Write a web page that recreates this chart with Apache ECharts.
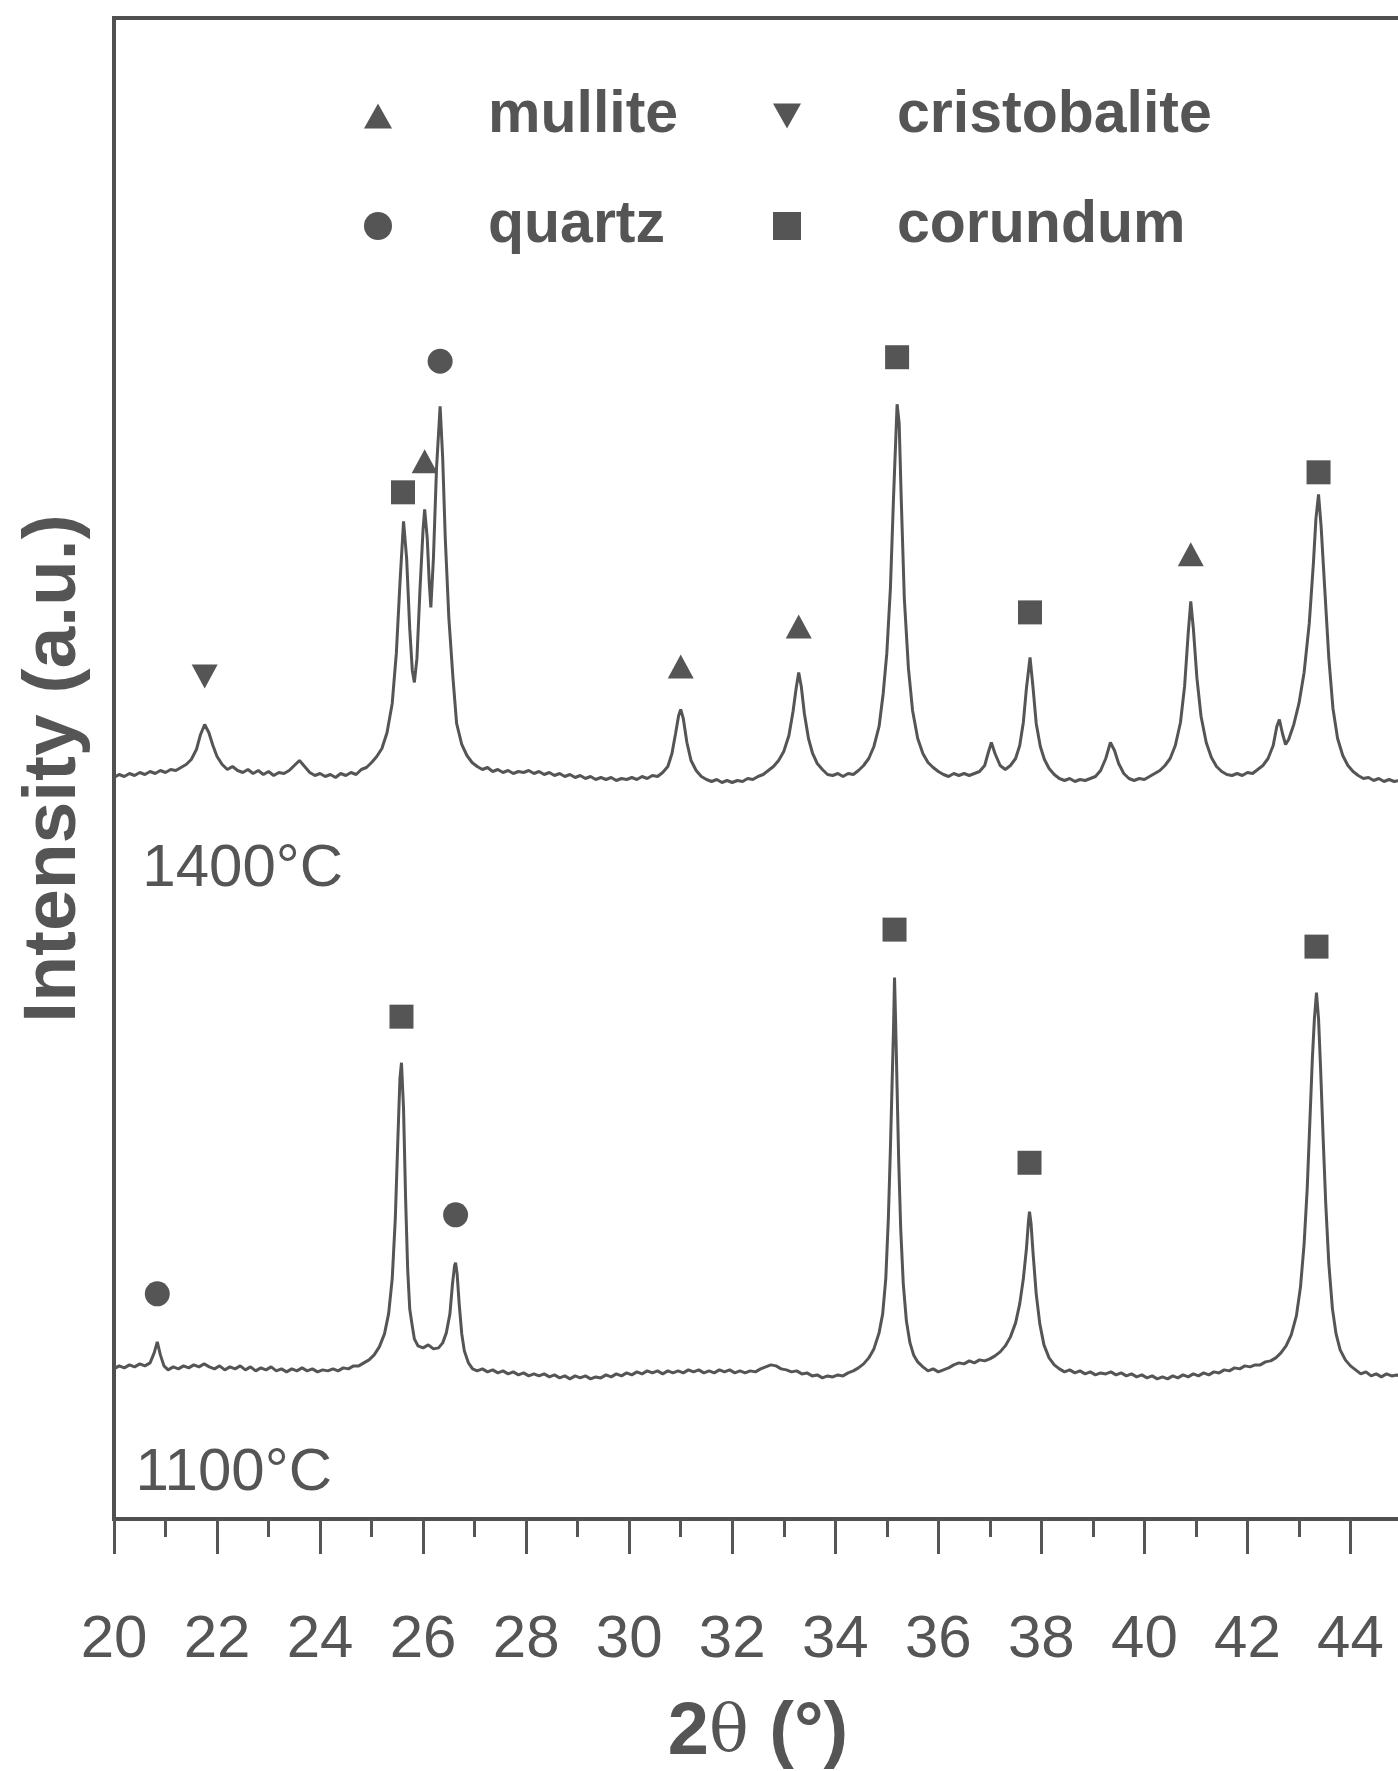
<!DOCTYPE html>
<html>
<head>
<meta charset="utf-8">
<title>XRD 1100 / 1400 °C</title>
<script src="https://cdn.jsdelivr.net/npm/echarts@6/dist/echarts.min.js"></script>
<style>
  html, body { margin: 0; padding: 0; background: #fff; }
  #chart { width: 1398px; height: 1771px; }
</style>
</head>
<body>
<div id="chart"></div>
<script>
// 2θ (deg) / intensity (a.u.), the two patterns are stacked with an offset
const pattern1400 = [
  [20.0,74.1],[20.1,74.4],[20.2,74.2],[20.3,74.5],[20.4,74.3],[20.5,74.6],[20.6,74.4],[20.7,74.7],[20.8,74.5],[20.9,74.8],
  [21.0,74.6],[21.1,74.9],[21.2,74.8],[21.3,75.1],[21.4,75.4],[21.5,75.9],[21.6,76.9],[21.68,78.4],[21.76,79.4],[21.84,78.6],
  [21.92,77.3],[22.0,76.2],[22.1,75.4],[22.2,74.9],[22.3,75.2],[22.4,74.8],[22.5,74.6],[22.6,74.9],[22.7,74.5],[22.8,74.8],
  [22.9,74.4],[23.0,74.7],[23.1,74.3],[23.2,74.6],[23.3,74.5],[23.4,74.8],[23.5,75.3],[23.6,75.8],[23.7,75.2],[23.8,74.6],
  [23.9,74.3],[24.0,74.5],[24.1,74.2],[24.2,74.4],[24.3,74.1],[24.4,74.5],[24.5,74.3],[24.6,74.6],[24.7,74.4],[24.8,74.9],
  [24.9,75.1],[25.0,75.6],[25.1,76.2],[25.2,77.0],[25.3,78.6],[25.4,81.5],[25.48,86.5],[25.55,93.5],[25.62,99.7],[25.68,96.0],
  [25.74,89.0],[25.79,84.8],[25.83,83.6],[25.88,86.0],[25.94,93.0],[26.0,99.0],[26.03,100.9],[26.08,98.0],[26.12,93.5],[26.15,91.1],
  [26.2,96.0],[26.26,105.0],[26.33,111.2],[26.38,106.0],[26.43,98.0],[26.5,90.0],[26.58,84.0],[26.65,79.5],[26.75,77.4],[26.85,76.3],
  [26.95,75.6],[27.05,75.2],[27.15,74.9],[27.25,75.1],[27.35,74.7],[27.45,74.9],[27.55,74.6],[27.65,74.8],[27.75,74.5],[27.85,74.7],
  [27.95,74.6],[28.05,74.8],[28.15,74.5],[28.25,74.7],[28.35,74.4],[28.45,74.6],[28.55,74.3],[28.65,74.5],[28.75,74.2],[28.85,74.4],
  [28.95,74.1],[29.05,74.3],[29.15,74.0],[29.25,74.2],[29.35,73.9],[29.45,74.1],[29.55,73.9],[29.65,74.1],[29.75,73.8],[29.85,74.0],
  [29.95,73.9],[30.05,74.1],[30.15,73.9],[30.25,74.2],[30.35,74.0],[30.45,74.3],[30.55,74.2],[30.65,74.6],[30.75,75.2],[30.83,76.5],
  [30.9,78.5],[30.96,80.3],[31.0,80.9],[31.05,80.0],[31.12,77.6],[31.2,75.8],[31.3,74.8],[31.4,74.2],[31.5,73.9],[31.6,73.7],
  [31.7,73.9],[31.8,73.6],[31.9,73.8],[32.0,73.6],[32.1,73.8],[32.2,73.7],[32.3,74.0],[32.4,73.9],[32.5,74.2],[32.6,74.4],
  [32.7,74.8],[32.8,75.2],[32.9,75.8],[33.0,76.7],[33.1,78.3],[33.18,80.7],[33.24,83.0],[33.29,84.6],[33.34,83.2],[33.4,80.5],
  [33.48,78.0],[33.56,76.5],[33.65,75.5],[33.75,74.9],[33.85,74.4],[33.95,74.3],[34.05,74.5],[34.15,74.2],[34.25,74.5],[34.35,74.4],
  [34.45,74.8],[34.55,75.3],[34.65,76.0],[34.75,77.2],[34.85,79.2],[34.93,82.5],[35.0,86.5],[35.07,93.0],[35.13,102.0],[35.2,111.4],
  [35.24,109.5],[35.28,102.0],[35.34,92.0],[35.42,85.0],[35.5,80.8],[35.6,78.0],[35.7,76.5],[35.8,75.6],[35.9,75.1],[36.0,74.7],
  [36.1,74.4],[36.2,74.2],[36.3,74.5],[36.4,74.3],[36.5,74.5],[36.6,74.3],[36.7,74.5],[36.8,74.7],[36.9,75.3],[36.97,76.6],
  [37.03,77.6],[37.1,76.5],[37.2,75.3],[37.3,74.9],[37.4,75.3],[37.5,76.0],[37.58,77.3],[37.65,79.6],[37.71,83.0],[37.78,86.1],
  [37.84,83.0],[37.9,79.5],[37.98,77.2],[38.06,75.9],[38.15,75.0],[38.25,74.4],[38.35,74.0],[38.45,73.8],[38.55,74.0],[38.65,73.7],
  [38.75,73.9],[38.85,73.8],[38.95,74.0],[39.05,74.2],[39.15,74.8],[39.25,76.0],[39.34,77.6],[39.42,76.8],[39.5,75.5],[39.6,74.5],
  [39.7,74.0],[39.8,73.8],[39.9,74.0],[40.0,73.9],[40.1,74.2],[40.2,74.5],[40.3,74.8],[40.4,75.3],[40.5,76.0],[40.6,77.3],
  [40.7,79.6],[40.78,83.2],[40.85,88.5],[40.9,91.7],[40.95,89.0],[41.02,84.0],[41.1,80.2],[41.2,77.6],[41.3,76.1],[41.4,75.2],
  [41.5,74.7],[41.6,74.4],[41.7,74.3],[41.8,74.5],[41.9,74.3],[42.0,74.6],[42.1,74.5],[42.2,74.9],[42.3,75.3],[42.4,76.0],
  [42.5,77.3],[42.57,79.2],[42.62,79.9],[42.68,78.5],[42.74,77.4],[42.8,77.9],[42.9,79.4],[43.0,81.5],[43.1,84.6],[43.2,89.5],
  [43.28,95.5],[43.33,100.0],[43.38,102.4],[43.43,99.2],[43.5,93.0],[43.58,86.0],[43.66,81.0],[43.75,78.0],[43.85,76.3],[43.95,75.3],
  [44.05,74.7],[44.15,74.3],[44.25,74.0],[44.35,74.1],[44.45,73.8],[44.55,74.0],[44.65,73.7],[44.75,73.9],[44.85,73.7],[44.95,73.8],
  [45.0,73.6]
];

const pattern1100 = [
  [20.0,15.0],[20.1,15.3],[20.2,15.1],[20.3,15.4],[20.4,15.2],[20.5,15.5],[20.6,15.3],[20.7,15.6],[20.78,16.6],[20.84,17.7],
  [20.9,16.4],[20.97,15.3],[21.05,14.9],[21.15,15.2],[21.25,15.0],[21.35,15.3],[21.45,15.1],[21.55,15.4],[21.65,15.2],[21.75,15.5],
  [21.85,15.2],[21.95,15.0],[22.05,15.3],[22.15,14.9],[22.25,15.2],[22.35,15.0],[22.45,15.3],[22.55,14.9],[22.65,15.2],[22.75,14.8],
  [22.85,15.1],[22.95,14.9],[23.05,15.2],[23.15,14.8],[23.25,15.0],[23.35,14.7],[23.45,15.0],[23.55,14.8],[23.65,15.1],[23.75,14.8],
  [23.85,15.0],[23.95,14.7],[24.05,14.9],[24.15,14.8],[24.25,15.0],[24.35,14.8],[24.45,15.1],[24.55,15.0],[24.65,15.3],[24.75,15.3],
  [24.85,15.6],[24.95,15.9],[25.05,16.4],[25.15,17.2],[25.25,18.5],[25.33,20.5],[25.4,24.0],[25.46,30.0],[25.51,38.0],[25.55,44.0],
  [25.58,45.6],[25.62,41.0],[25.66,32.0],[25.7,25.0],[25.74,21.0],[25.78,19.6],[25.83,18.0],[25.9,17.3],[26.0,17.1],[26.1,17.4],
  [26.2,17.0],[26.3,17.1],[26.38,17.6],[26.45,18.6],[26.52,20.5],[26.57,23.5],[26.61,25.3],[26.63,25.6],[26.66,24.5],[26.7,21.5],
  [26.75,18.5],[26.8,16.8],[26.88,15.6],[26.96,15.0],[27.05,14.8],[27.15,15.0],[27.25,14.7],[27.35,14.9],[27.45,14.6],[27.55,14.8],
  [27.65,14.5],[27.75,14.7],[27.85,14.4],[27.95,14.6],[28.05,14.3],[28.15,14.5],[28.25,14.3],[28.35,14.5],[28.45,14.2],[28.55,14.4],
  [28.65,14.1],[28.75,14.3],[28.85,14.0],[28.95,14.3],[29.05,14.1],[29.15,14.3],[29.25,14.0],[29.35,14.2],[29.45,14.1],[29.55,14.4],
  [29.65,14.2],[29.75,14.5],[29.85,14.3],[29.95,14.6],[30.05,14.4],[30.15,14.7],[30.25,14.5],[30.35,14.8],[30.45,14.6],[30.55,14.8],
  [30.65,14.5],[30.75,14.8],[30.85,14.6],[30.95,14.8],[31.05,14.6],[31.15,14.9],[31.25,14.7],[31.35,14.9],[31.45,14.6],[31.55,14.8],
  [31.65,14.6],[31.75,14.9],[31.85,14.7],[31.95,14.9],[32.05,14.6],[32.15,14.8],[32.25,14.6],[32.35,14.8],[32.45,14.7],[32.55,15.0],
  [32.65,15.2],[32.75,15.4],[32.85,15.3],[32.95,15.0],[33.05,14.9],[33.15,14.7],[33.25,14.8],[33.35,14.5],[33.45,14.6],[33.55,14.3],
  [33.65,14.4],[33.75,14.1],[33.85,14.3],[33.95,14.2],[34.05,14.4],[34.15,14.3],[34.25,14.6],[34.35,14.8],[34.45,15.1],[34.55,15.5],
  [34.65,16.1],[34.75,17.0],[34.85,18.6],[34.92,20.5],[34.98,24.0],[35.03,30.0],[35.07,37.0],[35.1,43.0],[35.13,49.0],[35.15,54.1],
  [35.17,50.0],[35.2,43.0],[35.23,36.0],[35.27,29.0],[35.32,23.5],[35.38,19.8],[35.45,17.6],[35.52,16.4],[35.6,15.7],[35.7,15.2],
  [35.8,14.8],[35.9,15.0],[36.0,14.7],[36.1,14.9],[36.2,15.1],[36.3,15.4],[36.4,15.6],[36.5,15.5],[36.6,15.8],[36.7,15.6],
  [36.8,15.9],[36.9,15.8],[37.0,16.0],[37.1,16.3],[37.2,16.7],[37.3,17.3],[37.4,18.2],[37.5,19.6],[37.58,21.5],[37.65,24.0],
  [37.71,27.0],[37.75,29.8],[37.77,30.7],[37.8,29.5],[37.84,26.5],[37.9,22.5],[37.97,19.5],[38.05,17.4],[38.15,16.1],[38.25,15.4],
  [38.35,15.0],[38.45,14.7],[38.55,14.9],[38.65,14.6],[38.75,14.8],[38.85,14.5],[38.95,14.7],[39.05,14.4],[39.15,14.6],[39.25,14.5],
  [39.35,14.7],[39.45,14.4],[39.55,14.6],[39.65,14.3],[39.75,14.5],[39.85,14.2],[39.95,14.4],[40.05,14.1],[40.15,14.3],[40.25,14.0],
  [40.35,14.2],[40.45,14.0],[40.55,14.3],[40.65,14.1],[40.75,14.4],[40.85,14.2],[40.95,14.5],[41.05,14.3],[41.15,14.6],[41.25,14.4],
  [41.35,14.7],[41.45,14.6],[41.55,14.9],[41.65,14.8],[41.75,15.1],[41.85,15.0],[41.95,15.3],[42.05,15.2],[42.15,15.4],[42.25,15.4],
  [42.35,15.7],[42.45,15.8],[42.55,16.1],[42.65,16.6],[42.75,17.3],[42.85,18.4],[42.95,20.3],[43.03,23.2],[43.1,27.5],[43.16,33.0],
  [43.21,39.5],[43.26,46.0],[43.3,50.0],[43.34,52.6],[43.38,50.0],[43.42,45.0],[43.47,38.0],[43.52,31.5],[43.58,25.5],[43.65,21.0],
  [43.72,18.5],[43.8,16.9],[43.9,15.9],[44.0,15.3],[44.1,14.9],[44.2,14.5],[44.3,14.7],[44.4,14.3],[44.5,14.5],[44.6,14.2],
  [44.7,14.5],[44.8,14.3],[44.9,14.4],[45.0,14.2]
];

// phase markers placed above the peaks
const mulliteMarks = [[26.03,105.7],[31.0,85.2],[33.29,89.2],[40.9,96.4]];
const cristobaliteMarks = [[21.76,84.2]];
const quartzMarks = [[26.33,115.7],[20.84,22.5],[26.63,30.4]];
const corundumMarks = [
  [25.61,102.6],[35.2,116.1],[37.78,90.6],[43.38,104.6],
  [25.58,50.2],[35.15,58.9],[37.77,35.6],[43.34,57.2]
];

// temperature captions: [2θ, intensity, text]
const sampleLabels = [[20.54,64.9,'1400°C'],[20.41,4.6,'1100°C']];

const xTicks = { min: 20, max: 45, major: 2, minor: 1 };

const GRAY = '#555555';
const FONT = '"Liberation Sans", Arial, Helvetica, sans-serif';
const downTriangle = 'path://M0,0 L10,0 L5,9 Z';
const upTriangle = 'path://M5,0 L10,9 L0,9 Z';

const chartDom = document.getElementById('chart');
const xrdChart = echarts.init(chartDom, null, { renderer: 'canvas' });

const markSeries = (name, data, symbol, size) => ({
  name: name,
  type: 'scatter',
  data: data,
  symbol: symbol,
  symbolSize: size,
  itemStyle: { color: GRAY, opacity: 1 },
  z: 5,
  silent: true
});

const legendText = {
  fontFamily: FONT,
  fontSize: 59,
  fontWeight: 'bold',
  color: GRAY,
  lineHeight: 60,
  padding: [0, 0, 0, 91]
};

const option = {
  animation: false,
  backgroundColor: '#ffffff',
  textStyle: { fontFamily: FONT },
  grid: {
    left: 114,
    width: 1288,
    top: 18,
    height: 1501,
    outerBoundsMode: 'none',
    containLabel: false,
    show: true,
    borderColor: '#505050',
    borderWidth: 4,
    backgroundColor: 'transparent'
  },
  legend: [
    {
      data: ['mullite', 'quartz'],
      orient: 'vertical',
      left: 364,
      top: 86,
      padding: 0,
      itemGap: 50,
      itemWidth: 28,
      itemHeight: 28,
      selectedMode: false,
      itemStyle: { opacity: 1 },
      textStyle: legendText
    },
    {
      data: ['cristobalite', 'corundum'],
      orient: 'vertical',
      left: 773,
      top: 86,
      padding: 0,
      itemGap: 50,
      itemWidth: 28,
      itemHeight: 28,
      selectedMode: false,
      itemStyle: { opacity: 1 },
      textStyle: legendText
    }
  ],
  xAxis: [
    {
      type: 'value',
      min: xTicks.min,
      max: xTicks.max,
      interval: xTicks.major,
      name: '{b|2}{t|θ}{b| (°)}',
      nameLocation: 'middle',
      nameGap: 175,
      nameTextStyle: {
        rich: {
          b: { fontFamily: FONT, fontSize: 74, fontWeight: 'bold', color: GRAY, lineHeight: 80 },
          t: { fontFamily: 'DejaVu Serif, serif', fontSize: 66, fontWeight: 'normal', color: GRAY, lineHeight: 80 }
        }
      },
      axisLine: { show: true, onZero: false, lineStyle: { color: '#505050', width: 4 } },
      axisTick: { show: true, length: 35, lineStyle: { color: GRAY, width: 3 } },
      axisLabel: {
        show: true,
        margin: 91,
        fontFamily: FONT,
        fontSize: 60,
        color: GRAY,
        lineHeight: 60,
        formatter: (v) => (v % 2 === 0 ? String(v) : '')
      },
      splitLine: { show: false }
    },
    {
      type: 'value',
      position: 'bottom',
      min: xTicks.min,
      max: xTicks.max,
      interval: xTicks.minor,
      axisLine: { show: false },
      axisTick: { show: true, length: 18, lineStyle: { color: GRAY, width: 3 } },
      axisLabel: { show: false },
      splitLine: { show: false }
    }
  ],
  yAxis: {
    type: 'value',
    min: 0,
    max: 150,
    name: 'Intensity (a.u.)',
    nameLocation: 'middle',
    nameRotate: 90,
    nameGap: 22,
    nameTextStyle: {
      fontFamily: FONT,
      fontSize: 75,
      fontWeight: 'bold',
      color: GRAY,
      lineHeight: 75
    },
    axisLine: { show: false },
    axisTick: { show: false },
    axisLabel: { show: false },
    splitLine: { show: false }
  },
  series: [
    {
      name: '1400',
      type: 'line',
      data: pattern1400,
      showSymbol: false,
      lineStyle: { color: '#555555', width: 3 },
      silent: true
    },
    {
      name: '1100',
      type: 'line',
      data: pattern1100,
      showSymbol: false,
      lineStyle: { color: '#555555', width: 3 },
      silent: true
    },
    markSeries('mullite', mulliteMarks, upTriangle, [26, 24]),
    markSeries('cristobalite', cristobaliteMarks, downTriangle, [26, 24]),
    markSeries('quartz', quartzMarks, 'circle', 25),
    markSeries('corundum', corundumMarks, 'rect', 24),
    {
      name: 'temperature',
      type: 'scatter',
      data: sampleLabels.map((d) => ({ value: [d[0], d[1]], name: d[2] })),
      symbolSize: 1,
      itemStyle: { color: 'transparent', opacity: 1 },
      silent: true,
      label: {
        show: true,
        position: 'right',
        distance: 0,
        formatter: (p) => p.name,
        fontFamily: FONT,
        fontSize: 60,
        color: GRAY
      }
    }
  ]
};

xrdChart.setOption(option);
</script>
</body>
</html>
